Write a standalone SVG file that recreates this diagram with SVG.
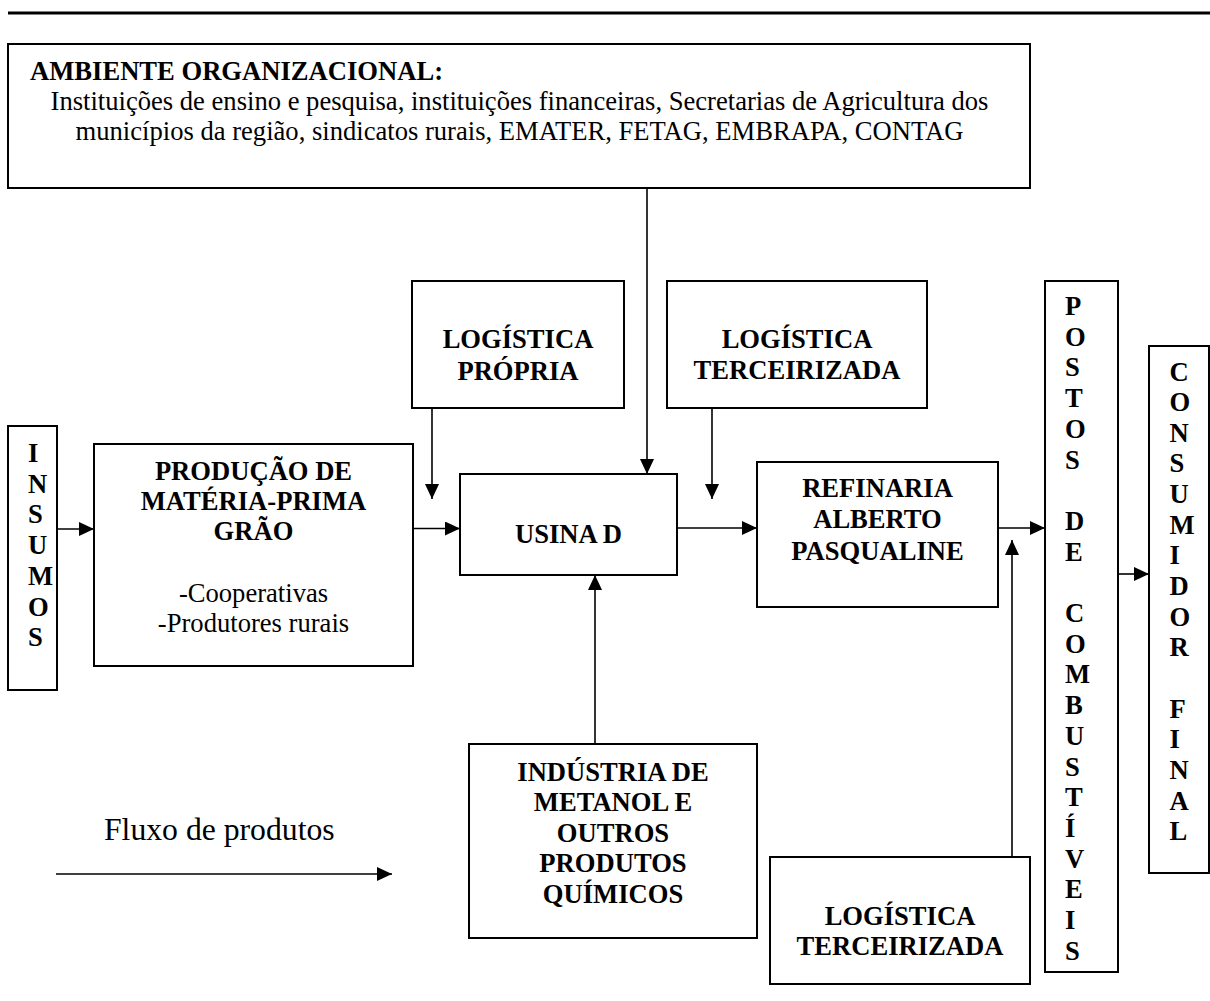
<svg xmlns="http://www.w3.org/2000/svg" width="1210" height="1001" viewBox="0 0 1210 1001">
<style>
text{font-family:"Liberation Serif","Times New Roman",serif;fill:#000;font-size:26.6px}
.b{font-weight:bold}
.c{text-anchor:middle}
.box{fill:#fff;stroke:#000;stroke-width:2}
.ln{stroke:#000;stroke-width:1.6;fill:none}
</style>
<defs>
<marker id="ah" markerUnits="userSpaceOnUse" markerWidth="15" markerHeight="14" refX="15" refY="7" orient="auto">
<path d="M0,0 L15,7 L0,14 z" fill="#000"/>
</marker>
</defs>
<rect width="1210" height="1001" fill="#fff"/>
<line x1="8" y1="13" x2="1210" y2="13" stroke="#000" stroke-width="3"/>

<g id="connectors">
<line class="ln" x1="57" y1="529" x2="94" y2="529" marker-end="url(#ah)"/>
<line class="ln" x1="413" y1="528.5" x2="460" y2="528.5" marker-end="url(#ah)"/>
<line class="ln" x1="432" y1="408" x2="432" y2="499" marker-end="url(#ah)"/>
<line class="ln" x1="647" y1="188" x2="647" y2="474" marker-end="url(#ah)"/>
<line class="ln" x1="712" y1="408" x2="712" y2="499" marker-end="url(#ah)"/>
<line class="ln" x1="677" y1="528" x2="757" y2="528" marker-end="url(#ah)"/>
<line class="ln" x1="595" y1="744" x2="595" y2="575" marker-end="url(#ah)"/>
<line class="ln" x1="998" y1="528" x2="1045" y2="528" marker-end="url(#ah)"/>
<line class="ln" x1="1012" y1="857" x2="1012" y2="540" marker-end="url(#ah)"/>
<line class="ln" x1="1118" y1="574" x2="1149" y2="574" marker-end="url(#ah)"/>
<line class="ln" x1="56" y1="874" x2="392" y2="874" marker-end="url(#ah)"/>
</g>

<g id="ambiente">
<rect class="box" x="8" y="44" width="1022" height="144"/>
<text class="b" x="30" y="80">AMBIENTE ORGANIZACIONAL:</text>
<text class="c" x="519.5" y="110">Instituições de ensino e pesquisa, instituições financeiras, Secretarias de Agricultura dos</text>
<text class="c" x="519.5" y="140">municípios da região, sindicatos rurais, EMATER, FETAG, EMBRAPA, CONTAG</text>
</g>

<g id="logistica-propria">
<rect class="box" x="412" y="281" width="212" height="127"/>
<text class="b c" x="518" y="348">LOGÍSTICA</text>
<text class="b c" x="518" y="380">PRÓPRIA</text>
</g>

<g id="logistica-terceirizada-1">
<rect class="box" x="667" y="281" width="260" height="127"/>
<text class="b c" x="797" y="348">LOGÍSTICA</text>
<text class="b c" x="797" y="379">TERCEIRIZADA</text>
</g>

<g id="insumos">
<rect class="box" x="8" y="426" width="49" height="264"/>
<text class="b" x="28" y="462"><tspan x="28">I</tspan><tspan x="28" dy="30.7">N</tspan><tspan x="28" dy="30.7">S</tspan><tspan x="28" dy="30.7">U</tspan><tspan x="28" dy="30.7">M</tspan><tspan x="28" dy="30.7">O</tspan><tspan x="28" dy="30.7">S</tspan></text>
</g>

<g id="producao">
<rect class="box" x="94" y="444" width="319" height="222"/>
<text class="b c" x="253.5" y="480">PRODUÇÃO DE</text>
<text class="b c" x="253.5" y="510">MATÉRIA-PRIMA</text>
<text class="b c" x="253.5" y="540">GRÃO</text>
<text class="c" x="253.5" y="602">-Cooperativas</text>
<text class="c" x="253.5" y="632">-Produtores rurais</text>
</g>

<g id="usina">
<rect class="box" x="460" y="474" width="217" height="101"/>
<text class="b c" x="568.5" y="543">USINA D</text>
</g>

<g id="refinaria">
<rect class="box" x="757" y="462" width="241" height="145"/>
<text class="b c" x="877.5" y="497">REFINARIA</text>
<text class="b c" x="877.5" y="528">ALBERTO</text>
<text class="b c" x="877.5" y="560">PASQUALINE</text>
</g>

<g id="postos">
<rect class="box" x="1045" y="281" width="73" height="691"/>
<text class="b" x="1065" y="315"><tspan x="1065">P</tspan><tspan x="1065" dy="30.7">O</tspan><tspan x="1065" dy="30.7">S</tspan><tspan x="1065" dy="30.7">T</tspan><tspan x="1065" dy="30.7">O</tspan><tspan x="1065" dy="30.7">S</tspan><tspan x="1065" dy="61.4">D</tspan><tspan x="1065" dy="30.7">E</tspan><tspan x="1065" dy="61.4">C</tspan><tspan x="1065" dy="30.7">O</tspan><tspan x="1065" dy="30.7">M</tspan><tspan x="1065" dy="30.7">B</tspan><tspan x="1065" dy="30.7">U</tspan><tspan x="1065" dy="30.7">S</tspan><tspan x="1065" dy="30.7">T</tspan><tspan x="1065" dy="30.7">Í</tspan><tspan x="1065" dy="30.7">V</tspan><tspan x="1065" dy="30.7">E</tspan><tspan x="1065" dy="30.7">I</tspan><tspan x="1065" dy="30.7">S</tspan></text>
</g>

<g id="consumidor">
<rect class="box" x="1149" y="346" width="60" height="527"/>
<text class="b" x="1169.5" y="380.5"><tspan x="1169.5">C</tspan><tspan x="1169.5" dy="30.65">O</tspan><tspan x="1169.5" dy="30.65">N</tspan><tspan x="1169.5" dy="30.65">S</tspan><tspan x="1169.5" dy="30.65">U</tspan><tspan x="1169.5" dy="30.65">M</tspan><tspan x="1169.5" dy="30.65">I</tspan><tspan x="1169.5" dy="30.65">D</tspan><tspan x="1169.5" dy="30.65">O</tspan><tspan x="1169.5" dy="30.65">R</tspan><tspan x="1169.5" dy="61.3">F</tspan><tspan x="1169.5" dy="30.65">I</tspan><tspan x="1169.5" dy="30.65">N</tspan><tspan x="1169.5" dy="30.65">A</tspan><tspan x="1169.5" dy="30.65">L</tspan></text>
</g>

<g id="industria">
<rect class="box" x="469" y="744" width="288" height="194"/>
<text class="b c" x="613" y="780.5">INDÚSTRIA DE</text>
<text class="b c" x="613" y="811">METANOL E</text>
<text class="b c" x="613" y="841.5">OUTROS</text>
<text class="b c" x="613" y="872">PRODUTOS</text>
<text class="b c" x="613" y="902.5">QUÍMICOS</text>
</g>

<g id="logistica-terceirizada-2">
<rect class="box" x="770" y="857" width="260" height="127"/>
<text class="b c" x="900" y="925">LOGÍSTICA</text>
<text class="b c" x="900" y="955">TERCEIRIZADA</text>
</g>

<g id="legenda">
<text x="104" y="840" style="font-size:31.7px">Fluxo de produtos</text>
</g>
</svg>
